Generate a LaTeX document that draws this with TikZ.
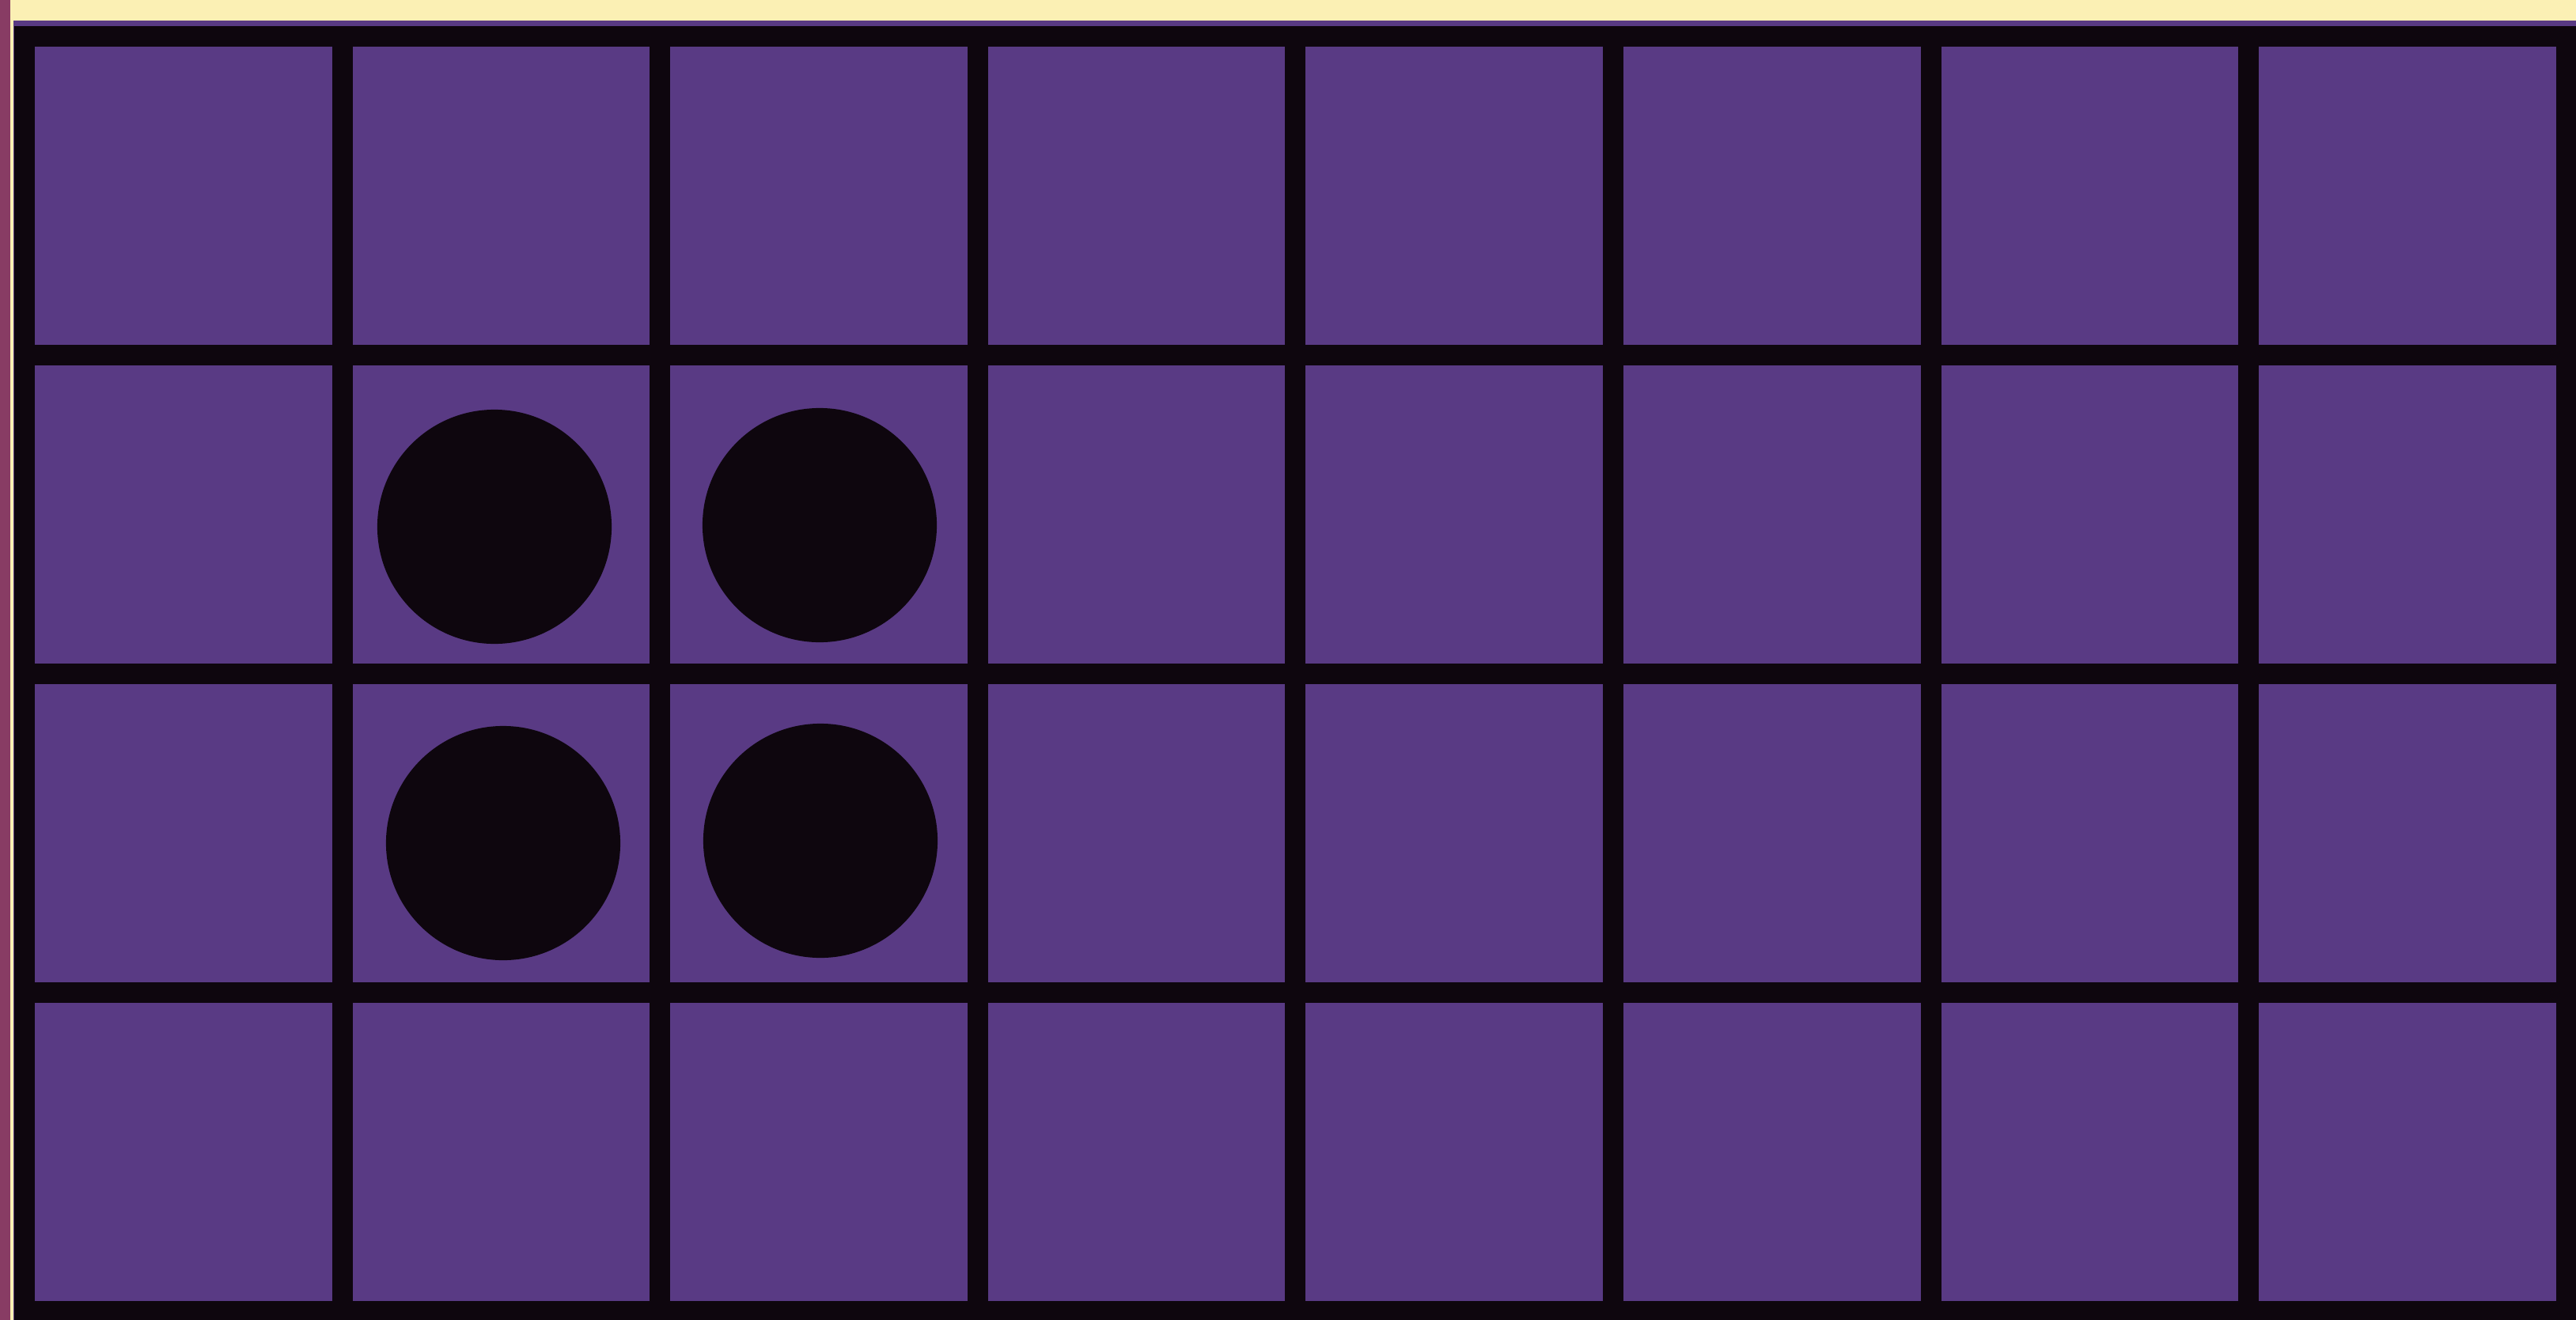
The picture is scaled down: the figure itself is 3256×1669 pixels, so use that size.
\documentclass[tikz,border=0pt]{standalone}
\usepackage{xcolor}
\usepackage{tikz}
\usetikzlibrary{positioning}
\definecolor{PaperCream}{RGB}{251,240,180}
\definecolor{EdgeMagenta}{RGB}{136,60,100}
\definecolor{GridPurple}{RGB}{89,58,132}
\definecolor{InkBlack}{RGB}{14,6,14}
\tikzset{
  gridline/.style={draw=InkBlack, line width=0.26cm, line cap=rect},
  disc/.style={circle, fill=InkBlack, inner sep=0pt, minimum size=2.96cm}
}

\begin{document}
\begin{tikzpicture}[x=0.01cm, y=-0.01cm]
      \useasboundingbox (0,0) rectangle (3256,1669);
      \fill[PaperCream] (0,0) rectangle (3256,1669);
      \fill[EdgeMagenta] (0,0) rectangle (13,1669);
      \fill[GridPurple] (17,26) rectangle (3256,1669);
      \foreach \i in {1,...,7} \draw[gridline] ({31+401.6*\i},46) -- ({31+401.6*\i},1658);
      \foreach \j in {1,2,3} \draw[gridline] (31,{46+403*\j}) -- (3244,{46+403*\j});
      \draw[gridline, line join=miter] (31,46) rectangle (3244,1658);
      \foreach \n/\x/\y in {d11/625/666, d12/1036/664, d21/636/1066, d22/1037/1063}
        \node[disc] (\n) at (\x,\y) {};
    \end{tikzpicture}
\end{document}
